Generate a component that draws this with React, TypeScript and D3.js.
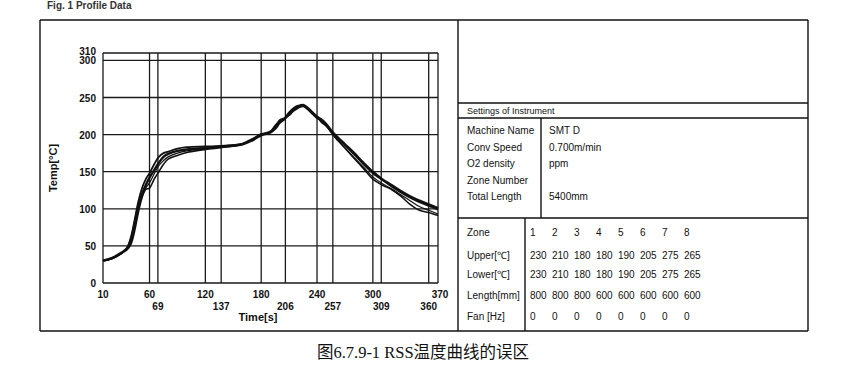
import * as d3 from 'd3';

const times = [10, 20, 30, 36, 40, 44, 48, 52, 56, 60, 65, 70, 75, 80, 90, 100, 120, 140, 160, 170, 180, 190, 195, 200, 205, 210, 215, 220, 225, 230, 235, 240, 245, 250, 255, 260, 270, 280, 290, 300, 310, 320, 330, 340, 350, 360, 370];

const tempA = [30, 33, 40, 48, 62, 85, 110, 128, 140, 148, 160, 170, 175, 177, 181, 183, 184, 185, 188, 194, 200, 204, 212, 218, 222, 230, 236, 239, 239, 234, 228, 222, 219, 212, 205, 198, 186, 173, 160, 148, 139, 130, 122, 115, 109, 104, 99];
const tempB = [30, 34, 41, 47, 58, 80, 104, 120, 132, 142, 152, 162, 170, 174, 178, 180, 182, 184, 187, 192, 199, 203, 208, 216, 221, 228, 234, 238, 240, 236, 230, 224, 220, 214, 206, 199, 187, 175, 162, 150, 140, 132, 124, 117, 111, 106, 101];
const tempC = [30, 33, 40, 45, 52, 70, 95, 115, 126, 128, 140, 150, 160, 167, 172, 176, 180, 183, 187, 193, 201, 203, 210, 220, 222, 226, 232, 236, 238, 235, 229, 223, 218, 212, 204, 196, 182, 168, 154, 140, 132, 126, 117, 106, 98, 95, 91];
const tempD = [30, 33, 41, 47, 55, 75, 100, 118, 128, 135, 147, 158, 165, 170, 175, 178, 181, 184, 187, 193, 200, 205, 210, 217, 221, 229, 235, 238, 239, 236, 230, 224, 216, 211, 203, 195, 182, 169, 156, 143, 134, 127, 119, 111, 103, 98, 93];

const xTicksTop = [10, 60, 120, 180, 240, 300, 370];
const xTicksBottom = [69, 137, 206, 257, 309, 360];
const yTicks = [0, 50, 100, 150, 200, 250, 300, 310];

const settingLabels = ['Machine Name', 'Conv Speed', 'O2 density', 'Zone Number', 'Total Length'];
const settingValues = ['SMT D', '0.700m/min', 'ppm', '', '5400mm'];

const zoneRowLabels = ['Zone', 'Upper[\u2103]', 'Lower[\u2103]', 'Length[mm]', 'Fan [Hz]'];
const zones = ['1', '2', '3', '4', '5', '6', '7', '8'];
const upper = [230, 210, 180, 180, 190, 205, 275, 265];
const lower = [230, 210, 180, 180, 190, 205, 275, 265];
const lengths = [800, 800, 800, 600, 600, 600, 600, 600];
const fan = [0, 0, 0, 0, 0, 0, 0, 0];

const series = [
  { values: tempA, width: 1.8 },
  { values: tempB, width: 2.4 },
  { values: tempC, width: 1.6 },
  { values: tempD, width: 1.2 },
];

const font = '"Liberation Sans", Arial, sans-serif';

export default function App() {
  const x = d3.scaleLinear().domain([10, 370]).range([103, 438]);
  const y = d3.scaleLinear().domain([0, 310]).range([283, 53]);

  const line = d3.line<number>()
    .x((_, i) => x(times[i]))
    .y(d => y(d))
    .curve(d3.curveCatmullRom.alpha(0.5));

  const gridX = [...xTicksTop, ...xTicksBottom];
  const zoneRows = [zones, upper, lower, lengths, fan];
  const zoneRowY = [236, 259, 278, 299, 320];

  return (
    <svg width={855} height={372} style={{ position: 'absolute', left: 0, top: 0, background: '#fff' }}>
      {/* heading, cut off at the top like the scan */}
      <text x={47} y={9} fontFamily={font} fontSize={10} fontWeight="bold" fill="#333">Fig. 1 Profile Data</text>

      {/* outer frames */}
      <g fill="none" stroke="#111" strokeWidth={1.4}>
        <line x1={40} y1={20} x2={808} y2={20} />
        <line x1={40} y1={20} x2={40} y2={331} />
        <line x1={40} y1={331} x2={808} y2={331} />
        <line x1={458} y1={20} x2={458} y2={331} />
        <line x1={808} y1={20} x2={808} y2={331} />
        <line x1={458} y1={103} x2={808} y2={103} />
        <line x1={458} y1={118} x2={808} y2={118} />
        <line x1={458} y1={218} x2={808} y2={218} />
        <line x1={541} y1={118} x2={541} y2={218} />
        <line x1={525} y1={218} x2={525} y2={331} />
      </g>

      {/* grid */}
      <g stroke="#1a1a1a" strokeWidth={1.3}>
        {gridX.map(t => (
          <line key={'gx' + t} x1={x(t)} x2={x(t)} y1={y(310)} y2={y(0)} />
        ))}
        {yTicks.map(v => (
          <line key={'gy' + v} x1={x(10)} x2={x(370)} y1={y(v)} y2={y(v)} />
        ))}
      </g>

      {/* curves */}
      <g fill="none" stroke="#111" strokeLinejoin="round">
        {series.map((s, i) => (
          <path key={i} d={line(s.values) as string} strokeWidth={s.width} />
        ))}
      </g>

      {/* y tick labels */}
      <g fontFamily={font} fontSize={10} fontWeight="bold" fill="#111" textAnchor="end">
        {yTicks.map(v => (
          <text key={'yl' + v} x={96} y={y(v) + (v === 310 ? 2 : 4)}>{v}</text>
        ))}
      </g>

      {/* x tick labels */}
      <g fontFamily={font} fontSize={10} fontWeight="bold" fill="#111" textAnchor="middle">
        {xTicksTop.map(t => (
          <text key={'xt' + t} x={t === 370 ? x(t) + 2 : x(t)} y={298}>{t}</text>
        ))}
        {xTicksBottom.map(t => (
          <text key={'xb' + t} x={x(t)} y={310}>{t}</text>
        ))}
      </g>

      <text x={258} y={321} fontFamily={font} fontSize={11} fontWeight="bold" fill="#111" textAnchor="middle">Time[s]</text>
      <text transform="translate(57,168) rotate(-90)" fontFamily={font} fontSize={11} fontWeight="bold" fill="#111" textAnchor="middle">Temp[{'\u00b0'}C]</text>

      {/* settings table */}
      <g fontFamily={font} fontSize={10} fill="#111">
        <text x={467} y={114} fontSize={9}>Settings of Instrument</text>
        {settingLabels.map((l, i) => (
          <text key={'sl' + i} x={467} y={134 + i * 16.6}>{l}</text>
        ))}
        {settingValues.map((v, i) => (
          <text key={'sv' + i} x={549} y={134 + i * 16.6}>{v}</text>
        ))}
        {zoneRowLabels.map((l, i) => (
          <text key={'zl' + i} x={467} y={zoneRowY[i]}>{l}</text>
        ))}
        {zoneRows.map((row, r) =>
          row.map((v, c) => (
            <text key={'z' + r + '-' + c} x={530 + c * 22} y={zoneRowY[r]}>{v}</text>
          ))
        )}
      </g>

      {/* caption */}
      <text x={423} y={358} textAnchor="middle" fontFamily='"Liberation Serif", "Noto Sans CJK SC", serif' fontSize={16.5} fill="#111">
        图6.7.9-1 RSS温度曲线的误区
      </text>
    </svg>
  );
}
